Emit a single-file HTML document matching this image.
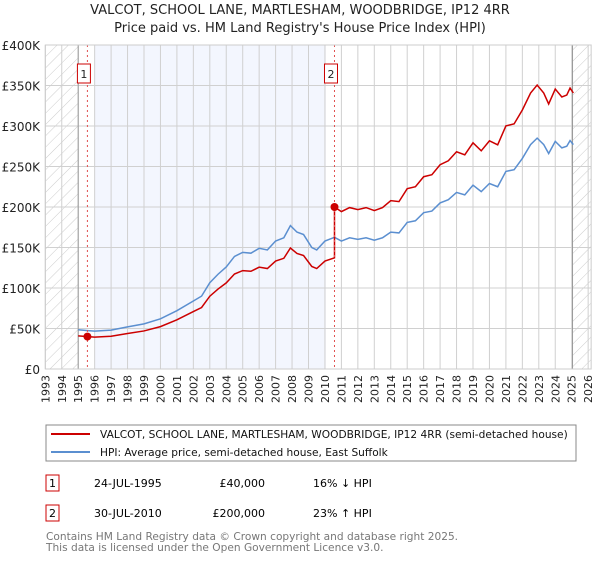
<!DOCTYPE html>
<html><head><meta charset="utf-8"><style>
body{margin:0;background:#fff;font-family:"Liberation Sans","DejaVu Sans",sans-serif;}
svg text{font-family:"DejaVu Sans","Liberation Sans",sans-serif;}
</style></head><body>
<svg id="c" width="600" height="560" xmlns="http://www.w3.org/2000/svg">
<defs><pattern id="hatch" width="8" height="8" patternUnits="userSpaceOnUse" patternTransform="rotate(45)"><line x1="0" y1="0" x2="0" y2="8" stroke="#ccc" stroke-width="1"/></pattern></defs>
<text x="300" y="14" text-anchor="middle" font-size="13" fill="#222">VALCOT, SCHOOL LANE, MARTLESHAM, WOODBRIDGE, IP12 4RR</text>
<text x="300" y="32" text-anchor="middle" font-size="13" fill="#222">Price paid vs. HM Land Registry's House Price Index (HPI)</text>
<g id="plot"></g>
<rect x="46" y="425" width="530" height="36" fill="#fff" stroke="#888"/>
<line x1="51" y1="434" x2="90" y2="434" stroke="#cc0000" stroke-width="2"/>
<text x="100" y="438" font-size="10.6" fill="#111">VALCOT, SCHOOL LANE, MARTLESHAM, WOODBRIDGE, IP12 4RR (semi-detached house)</text>
<line x1="51" y1="452" x2="90" y2="452" stroke="#5b8fd0" stroke-width="2"/>
<text x="100" y="456" font-size="10.6" fill="#111">HPI: Average price, semi-detached house, East Suffolk</text>
<g>
<rect x="46" y="475" width="13" height="16" fill="#fff" stroke="#cc0000"/><text x="52.5" y="487" text-anchor="middle" font-size="11">1</text>
<text x="94" y="487" font-size="11">24-JUL-1995</text><text x="265" y="487" text-anchor="end" font-size="11">£40,000</text><text x="313" y="487" font-size="11">16% ↓ HPI</text></g>
<g>
<rect x="46" y="505" width="13" height="16" fill="#fff" stroke="#cc0000"/><text x="52.5" y="517" text-anchor="middle" font-size="11">2</text>
<text x="94" y="517" font-size="11">30-JUL-2010</text><text x="265" y="517" text-anchor="end" font-size="11">£200,000</text><text x="313" y="517" font-size="11">23% ↑ HPI</text></g>
<text x="46" y="540" font-size="10.6" fill="#777">Contains HM Land Registry data © Crown copyright and database right 2025.</text>
<text x="46" y="551" font-size="10.6" fill="#777">This data is licensed under the Open Government Licence v3.0.</text>
</svg>
<script>
const hpiYears=[1995,1995.5,1996,1997,1998,1999,2000,2001,2002,2002.5,2003,2003.5,2004,2004.5,2005,2005.5,2006,2006.5,2007,2007.5,2007.9,2008.3,2008.7,2009.2,2009.5,2010,2010.58,2011,2011.5,2012,2012.5,2013,2013.5,2014,2014.5,2015,2015.5,2016,2016.5,2017,2017.5,2018,2018.5,2019,2019.5,2020,2020.5,2021,2021.5,2022,2022.5,2022.9,2023.3,2023.6,2024,2024.4,2024.7,2024.9,2025.1];
const hpiValues=[48.4,47.5,46.7,48,52,55.7,62,72,84,90,106.5,117,126,139,144,143,149,147,158,162,177,169,166,150,147,158,162.6,158,162,160,162,159,162,169,168,181,183,193,195,205,209,218,215,227,219,229,225,244,246,260,277,285,277,266,281,273,275,282,277];
const saleYears=[1995.56,2010.58];
const salePrices=[40,200];
const yTicks=[0,50,100,150,200,250,300,350,400];
const xTicks=[];for(let y=1993;y<=2026;y++)xTicks.push(y);
const X0=45.3,PX=16.45,Y0=369,PY=324/400;
const sx=y=>X0+(y-1993)*PX, sy=v=>Y0-v*PY;
const NS='http://www.w3.org/2000/svg';
const g=document.getElementById('plot');
function mk(t,a){const e=document.createElementNS(NS,t);for(const k in a)e.setAttribute(k,a[k]);g.appendChild(e);return e;}
let e;
e=mk('rect',{x:sx(1993),y:sy(400),width:sx(1995)-sx(1993),height:Y0-sy(400),fill:'url(#hatch)'});


e=mk('rect',{x:sx(2025.05),y:sy(400),width:sx(2026)-sx(2025.05)+3,height:Y0-sy(400),fill:'url(#hatch)'});


e=mk('rect',{x:sx(1996),y:sy(400),width:sx(2010.05)-sx(1996),height:Y0-sy(400),fill:'#f3f6fe'});


xTicks.forEach(y=>{
 e=mk('line',{x1:sx(y),y1:sy(400),x2:sx(y),y2:Y0,stroke:'#d0d0d0'});
 
 
 e=mk('text',{x:0,y:0,'font-size':11,fill:'#222','text-anchor':'end',transform:`translate(${sx(y)+4},${Y0+6}) rotate(-90)`});
 e.textContent=y;
 
 
});
yTicks.forEach(v=>{
 e=mk('line',{x1:sx(1993),y1:sy(v),x2:sx(2026)+3,y2:sy(v),stroke:'#d0d0d0'});
 
 
 e=mk('text',{x:40,y:sy(v)+5,'font-size':12,fill:'#222','text-anchor':'end'});
 e.textContent=v===0?'£0':'£'+v+'K';
 
 
});
e=mk('line',{x1:sx(1995),y1:sy(400),x2:sx(1995),y2:Y0,stroke:'#999'});


e=mk('line',{x1:sx(2025.05),y1:sy(400),x2:sx(2025.05),y2:Y0,stroke:'#999'});


e=mk('polyline',{points:hpiYears.map((y,i)=>sx(y)+','+sy(hpiValues[i])).join(' '),fill:'none',stroke:'#5b8fd0','stroke-width':1.5});


function hpiAt(t){for(let i=1;i<hpiYears.length;i++){if(t<=hpiYears[i]){const f=(t-hpiYears[i-1])/(hpiYears[i]-hpiYears[i-1]);return hpiValues[i-1]+f*(hpiValues[i]-hpiValues[i-1]);}}return hpiValues[hpiValues.length-1];}
const pts=[];
const r1=salePrices[0]/hpiAt(saleYears[0]),r2=salePrices[1]/hpiAt(saleYears[1]);
hpiYears.forEach((y,i)=>{if(y<saleYears[1])pts.push([y,hpiValues[i]*r1]);});
pts.push([saleYears[1],hpiAt(saleYears[1])*r1]);
pts.push([saleYears[1],salePrices[1]]);
hpiYears.forEach((y,i)=>{if(y>saleYears[1])pts.push([y,hpiValues[i]*r2]);});
e=mk('polyline',{points:pts.map(p=>sx(p[0])+','+sy(p[1])).join(' '),fill:'none',stroke:'#cc0000','stroke-width':1.5});


saleYears.forEach((y,i)=>{
 e=mk('line',{x1:sx(y),y1:sy(400),x2:sx(y),y2:Y0,stroke:'#e05050','stroke-dasharray':'2,3'});
 
 
 e=mk('circle',{cx:sx(y),cy:sy(salePrices[i]),r:4,fill:'#cc0000'});
 
 
 e=mk('rect',{x:sx(y)-10,y:64,width:13,height:19,fill:'#fff',stroke:'#cc0000'});
 
 
 e=mk('text',{x:sx(y)-3.5,y:78,'font-size':11,'text-anchor':'middle',fill:'#222'});
 e.textContent=i+1;
 
 
});
e=mk('rect',{x:sx(1993),y:sy(400),width:sx(2026)+3-sx(1993),height:Y0-sy(400),fill:'none',stroke:'#ccc'});


</script>
</body></html>
